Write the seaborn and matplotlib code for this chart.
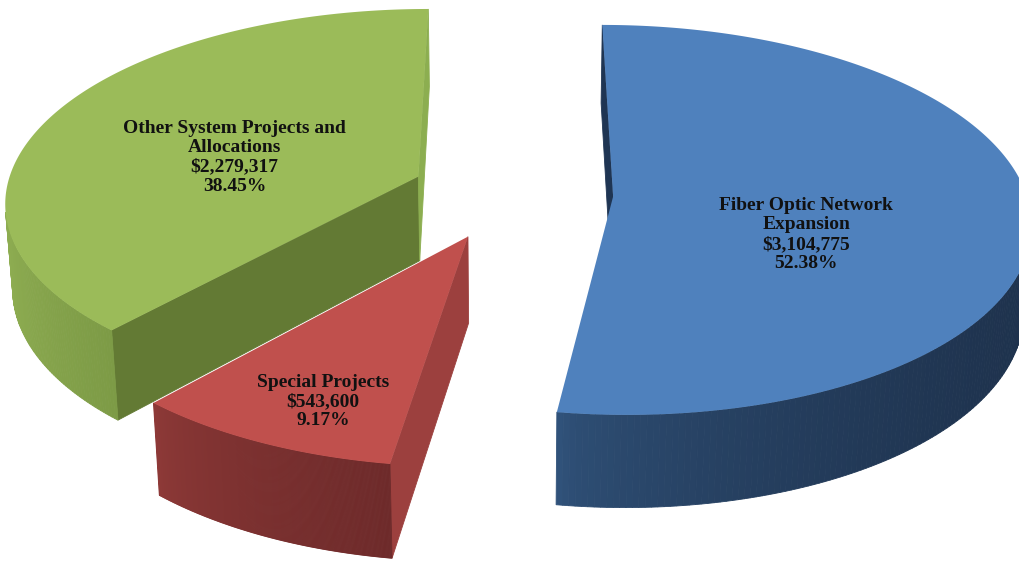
import numpy as np
import matplotlib
matplotlib.use("Agg")
import matplotlib.pyplot as plt
import seaborn as sns
from matplotlib.colors import to_rgb

# ---------------- data ----------------
categories = ["Fiber Optic Network\nExpansion", "Special Projects", "Other System Projects and\nAllocations"]
amounts = [3104775, 543600, 2279317]

# ---------------- style ----------------
top_colors = ["#4f81bd", "#c0504d", "#9bbb59"]
wall_left = ["#30527a", "#8f3a38", "#8fae52"]
wall_right = ["#1e324d", "#6e2a2a", "#7d9b46"]
side_colors = [("#1f3553", "#1f3553"), ("#9c403e", "#9c403e"), ("#637a34", "#8cae50")]
label_r = [0.49, 0.80, 0.47]
label_dtheta = [-19.0, 3.0, 8.0]

sns.set_theme(style="white")
plt.rcParams['font.family'] = ['Liberation Serif', 'DejaVu Serif']

PHI = np.radians(27.6)
DIST = 7.4
SCALE = 413.0
CX, CY = 512.0, 193.0
EXPLODE = 0.245
HEIGHT = 0.235
START = 90.0
CAM = np.array([0.0, DIST * np.sin(PHI), -DIST * np.cos(PHI)])


def project(X, Y, Z):
    X = np.asarray(X, float); Y = np.asarray(Y, float); Z = np.asarray(Z, float)
    yc = Y * np.cos(PHI) + Z * np.sin(PHI)
    zc = DIST + Z * np.cos(PHI) - Y * np.sin(PHI)
    F = SCALE * DIST
    return CX + F * X / zc, CY - F * yc / zc


def mix(c1, c2, t):
    a, b = np.array(to_rgb(c1)), np.array(to_rgb(c2))
    return tuple(a + (b - a) * t)


fig = plt.figure(figsize=(10.19, 5.62), dpi=100)
ax = fig.add_axes([0, 0, 1, 1])
ax.set_xlim(0, 1019)
ax.set_ylim(562, 0)
ax.axis("off")

vals = np.array(amounts, float)
frac = vals / vals.sum()
cum = np.concatenate([[0], np.cumsum(frac)])

slices = []
for i in range(len(vals)):
    t1 = START - cum[i] * 360.0
    t2 = START - cum[i + 1] * 360.0
    mid = np.radians((t1 + t2) / 2)
    ax0, az0 = EXPLODE * np.cos(mid), EXPLODE * np.sin(mid)
    depth = DIST + az0 * np.cos(PHI)
    slices.append((depth, i, t1, t2, ax0, az0))

slices.sort(key=lambda s: -s[0])

for depth, i, t1, t2, ax0, az0 in slices:
    n = 240
    th = np.radians(np.linspace(t2, t1, n))
    px = ax0 + np.cos(th)
    pz = az0 + np.sin(th)
    # radial side faces
    for edge, nang, col in ((t1, t1 + 90, side_colors[i][0]), (t2, t2 - 90, side_colors[i][1])):
        e = np.radians(edge)
        ex, ez = ax0 + np.cos(e), az0 + np.sin(e)
        nrm = np.array([np.cos(np.radians(nang)), 0, np.sin(np.radians(nang))])
        mp = np.array([(ax0 + ex) / 2, -HEIGHT / 2, (az0 + ez) / 2])
        if np.dot(nrm, CAM - mp) > 0:
            qx, qy = project([ax0, ex, ex, ax0], [0, 0, -HEIGHT, -HEIGHT], [az0, ez, ez, az0])
            ax.fill(qx, qy, color=col, lw=0.6, ec=col, zorder=1)
    # outer wall
    vis = []
    for k in range(n - 1):
        tm = (th[k] + th[k + 1]) / 2
        nrm = np.array([np.cos(tm), 0, np.sin(tm)])
        mp = np.array([ax0 + np.cos(tm), -HEIGHT / 2, az0 + np.sin(tm)])
        if np.dot(nrm, CAM - mp) > 0:
            vis.append(k)
    if vis:
        sxs = [project(px[k], 0, pz[k])[0] for k in vis]
        xmin, xmax = min(sxs), max(sxs)
        for k in vis:
            qx, qy = project([px[k], px[k + 1], px[k + 1], px[k]],
                             [0, 0, -HEIGHT, -HEIGHT],
                             [pz[k], pz[k + 1], pz[k + 1], pz[k]])
            t = (qx[0] - xmin) / max(xmax - xmin, 1)
            col = mix(wall_left[i], wall_right[i], min(1, t ** 0.6))
            ax.fill(qx, qy, color=col, lw=0.6, ec=col, zorder=1)
    # top face
    tx, ty = project(np.concatenate([[ax0], px]), np.zeros(n + 1), np.concatenate([[az0], pz]))
    ax.fill(tx, ty, color=top_colors[i], lw=0, zorder=2)
    # label
    la = np.radians((t1 + t2) / 2 + label_dtheta[i])
    lx, ly = project(ax0 + label_r[i] * np.cos(la), 0, az0 + label_r[i] * np.sin(la))
    txt = f"{categories[i]}\n${amounts[i]:,.0f}\n{frac[i] * 100:.2f}%"
    ax.text(float(lx), float(ly), txt, ha="center", va="center", fontsize=14,
            fontweight="bold", color="#111111", linespacing=1.18, zorder=5)

fig.savefig("out.png", dpi=100, facecolor="white")
